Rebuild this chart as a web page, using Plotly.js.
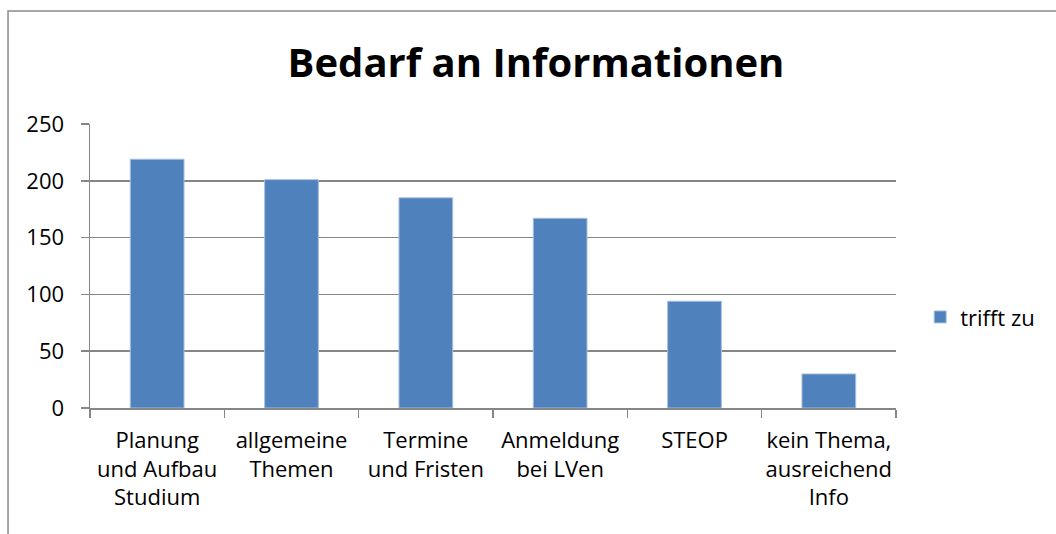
<!DOCTYPE html>
<html>
<head>
<meta charset="utf-8">
<script src="https://cdn.plot.ly/plotly-3.0.1.min.js"></script>
<style>html,body{margin:0;padding:0;background:#fff;}#chart{width:1056px;height:534px;}</style>
</head>
<body>
<div id="chart"></div>
<script>
const categories = ["Planung<br>und Aufbau<br>Studium", "allgemeine<br>Themen", "Termine<br>und Fristen", "Anmeldung<br>bei LVen", "STEOP", "kein Thema,<br>ausreichend<br>Info"];
const values = [219, 201, 185, 167, 94, 30];
const seriesName = "trifft zu";
const yTicks = [0, 50, 100, 150, 200, 250];

const FONT = "'Open Sans', 'Noto Sans', sans-serif";
const trace = {
  type: "bar",
  x: categories,
  y: values,
  name: seriesName,
  marker: {color: "#4F81BD", line: {color: "#A7BFDE", width: 1}},
  showlegend: true,
  hoverinfo: "x+y"
};
const layout = {
  width: 1056, height: 534,
  margin: {l: 90, r: 160, t: 124, b: 126, autoexpand: false},
  paper_bgcolor: "#fff", plot_bgcolor: "#fff",
  font: {family: FONT, size: 22, color: "#000"},
  title: {text: "<b>Bedarf an Informationen</b>", font: {family: FONT, size: 40, color: "#000"}, x: 536/1056, xanchor: "center", xref: "container", y: 1 - 63/534, yanchor: "middle", yref: "container"},
  bargap: 0.6,
  showlegend: true,
  legend: {x: 1.03, y: 0.32, xanchor: "left", yanchor: "middle", font: {family: FONT, size: 22}, itemwidth: 30, bgcolor: "rgba(0,0,0,0)"},
  xaxis: {
    type: "category", showline: true, linecolor: "#868686", linewidth: 1.5,
    ticks: "outside", tickson: "boundaries", ticklen: 8, tickcolor: "#868686", tickwidth: 1.5,
    showgrid: false, tickfont: {family: FONT, size: 22}, tickangle: 0, ticklabelstandoff: 12, automargin: false
  },
  yaxis: {
    range: [0, 250], tickvals: yTicks, ticktext: yTicks.map(String),
    showline: true, linecolor: "#868686", linewidth: 1.5,
    ticks: "outside", ticklen: 8, tickcolor: "#868686", tickwidth: 1.5,
    showgrid: true, gridcolor: "#868686", gridwidth: 1.5, zeroline: false,
    tickfont: {family: FONT, size: 22}, ticklabelstandoff: 12, automargin: false, fixedrange: true
  },
  shapes: [{type: "rect", xref: "paper", yref: "paper", x0: -0.1017, x1: 1.6, y0: -1, y1: 1.398, line: {color: "#898989", width: 1.5}, fillcolor: "rgba(0,0,0,0)", layer: "below"}]
};
Plotly.newPlot("chart", [trace], layout, {displayModeBar: false, staticPlot: true});
</script>
</body>
</html>
